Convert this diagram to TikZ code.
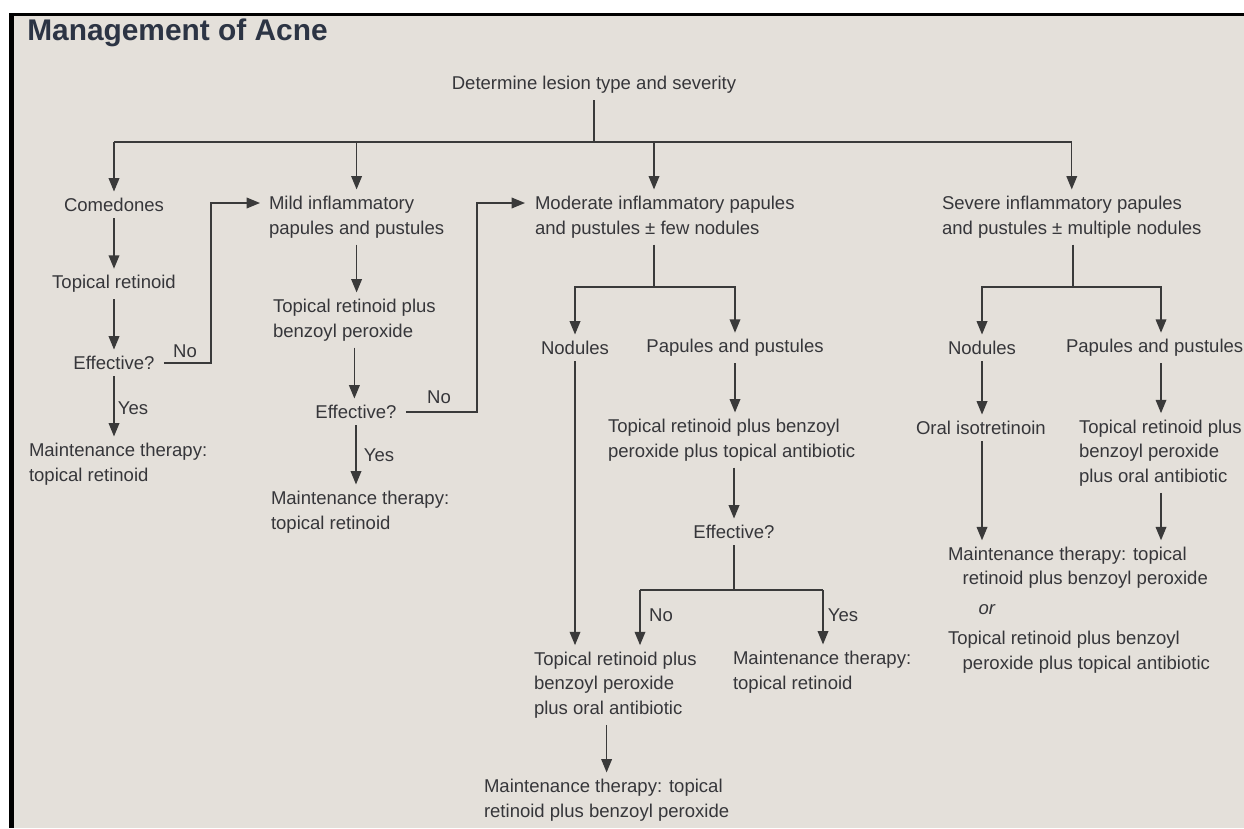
\documentclass[tikz,border=0pt]{standalone}
\usepackage{fontspec}
\setmainfont{Liberation Sans}
\usetikzlibrary{arrows.meta,positioning}
\definecolor{acbg}{HTML}{E4E0DA}
\definecolor{actext}{HTML}{36363A}
\definecolor{actitle}{HTML}{2C3444}
\definecolor{acline}{HTML}{3A3A3A}

\begin{document}
\begin{tikzpicture}[
  x=0.75pt, y=-0.75pt,
  txt/.style={font=\fontsize{13.9}{18.4}\selectfont, text=actext,
              inner xsep=0pt, inner ysep=5pt, outer sep=0pt},
  lft/.style={txt, align=left, anchor=west},
  mid/.style={txt, align=center},
  yn/.style={font=\fontsize{13.9}{18.4}\selectfont, text=actext, inner sep=0pt},
  arr/.style={-{Triangle[length=10pt,width=8pt]}, acline, line width=1pt},
  ln/.style={acline, line width=1pt},
]

%% ---- Fondo y marco ----
\useasboundingbox (0,0) rectangle (1244,828);
\fill[white] (0,0) rectangle (1244,828);
\fill[acbg] (14,16) rectangle (1244,828);
\fill[black] (9,13) rectangle (1244,16);
\fill[black] (9,13) rectangle (14,828);

\node[anchor=west, inner sep=0pt, text=actitle,
      font=\bfseries\fontsize{22.4}{26}\selectfont] (title) at (27,33) {Management of Acne};

%% ---- Raiz y reparto ----
\node[mid] (root) at (594,85) {Determine lesion type and severity};
\coordinate (topbus) at (594,142);
\coordinate (modtop) at (654,142);

\node[mid] (comed) at (114,205) {Comedones};
\node[lft] (mild)  at (269,217) {Mild inflammatory\\papules and pustules};
\node[lft] (mod)   at (535,217) {Moderate inflammatory papules\\and pustules ± few nodules};
\node[lft] (sev)   at (942,217) {Severe inflammatory papules\\and pustules ± multiple nodules};

\draw[ln] (root) -- (topbus);
\draw[ln] (comed.north |- topbus) -- (sev.north |- topbus);
\foreach \n in {comed,mild,sev}
  \draw[arr] (\n.north |- topbus) -- (\n.north);
\draw[arr] (modtop) -- (modtop |- mod.north);

%% ---- Comedones ----
\node[mid] (comret)   at (114,284) {Topical retinoid};
\node[mid] (comeff)   at (114,363) {Effective?};
\node[lft] (commaint) at (29,464)  {Maintenance therapy:\\topical retinoid};
\coordinate (comno)  at (211,203);
\coordinate (mildin) at (260,203);

\draw[arr] (comed.south) -- (comed.south |- comret.north);
\draw[arr] (comret.south) -- (comret.south |- comeff.north);
\draw[arr] (comeff.south) -- (comeff.south |- commaint.north);
\draw[arr, shorten <=7pt] (comeff.east) -| (comno) -- (mildin);
\node[yn] (comnolbl)  at (185,351) {No};
\node[yn] (comyeslbl) at (133,408) {Yes};

%% ---- Leve ----
\node[lft] (mildtx)    at (273,320) {Topical retinoid plus\\benzoyl peroxide};
\node[mid] (mildeff)   at (356,412) {Effective?};
\node[lft] (mildmaint) at (271,512) {Maintenance therapy:\\topical retinoid};
\coordinate (mildno) at (477,203);
\coordinate (modin)  at (525,203);

\draw[arr] (mild.south) -- (mild.south |- mildtx.north);
\draw[arr] (mildtx.south) -- (mildtx.south |- mildeff.north);
\draw[arr] (mildeff.south) -- (mildeff.south |- mildmaint.north);
\draw[arr, shorten <=7pt] (mildeff.east) -| (mildno) -- (modin);
\node[yn] (mildnolbl)  at (439,397) {No};
\node[yn] (mildyeslbl) at (379,455) {Yes};

%% ---- Moderado ----
\coordinate (modsplit) at (654,287);
\node[mid] (modnod)   at (575,348) {Nodules};
\node[mid] (modpap)   at (735,348) {Papules and pustules};
\node[lft] (modtx)    at (608,440) {Topical retinoid plus benzoyl\\peroxide plus topical antibiotic};
\node[mid] (modeff)   at (734,532) {Effective?};
\node[lft] (modoral)  at (534,685) {Topical retinoid plus\\benzoyl peroxide\\plus oral antibiotic};
\node[lft] (modyes)   at (733,672) {Maintenance therapy:\\topical retinoid};
\node[lft] (modmaint) at (484,800) {Maintenance therapy: topical\\retinoid plus benzoyl peroxide};
\coordinate (modno) at (640,590);
\coordinate (modyc) at (823,590);

\draw[ln] (modsplit |- mod.south) -- (modsplit);
\draw[arr] (modsplit) -| (modnod.north);
\draw[arr] (modsplit) -| (modpap.north);
\draw[arr] (modnod.south) -- (modnod.south |- modoral.north);
\draw[arr] (modpap.south) -- (modpap.south |- modtx.north);
\draw[arr] (modeff.north |- modtx.south) -- (modeff.north);
\draw[ln] (modeff.south) -- (modeff.south |- modno);
\draw[ln] (modno) -- (modyc);
\draw[arr] (modno) -- (modno |- modoral.north);
\draw[arr] (modyc) -- (modyc |- modyes.north);
\draw[arr] (modmaint.north |- modoral.south) -- (modmaint.north);
\node[yn] (modnolbl)  at (661,615) {No};
\node[yn] (modyeslbl) at (843,615) {Yes};

%% ---- Grave ----
\coordinate (sevsplit) at (1073,287);
\node[mid] (sevnod)   at (982,348)  {Nodules};
\node[lft] (sevpap)   at (1066,348) {Papules and pustules};
\node[lft] (seviso)   at (916,428)  {Oral isotretinoin};
\node[lft] (sevtx)    at (1079,453) {Topical retinoid plus\\benzoyl peroxide\\plus oral antibiotic};
\node[lft] (sevmaint) at (948,610)  {Maintenance therapy: topical\\
  \hspace*{11pt}retinoid plus benzoyl peroxide\\[4pt]
  \hspace*{23pt}\textit{or}\\[4pt]
  Topical retinoid plus benzoyl\\
  \hspace*{11pt}peroxide plus topical antibiotic};
\coordinate (sevright) at (1161,287);

\draw[ln] (sevsplit |- sev.south) -- (sevsplit);
\draw[arr] (sevsplit) -| (sevnod.north);
\draw[arr] (sevsplit) -| (sevright |- sevpap.north);
\draw[arr] (sevnod.south) -- (sevnod.south |- seviso.north);
\draw[arr] (sevright |- sevpap.south) -- (sevright |- sevtx.north);
\draw[arr] (sevnod.south |- seviso.south) -- (sevnod.south |- sevmaint.north);
\draw[arr] (sevright |- sevtx.south) -- (sevright |- sevmaint.north);

\end{tikzpicture}
\end{document}
